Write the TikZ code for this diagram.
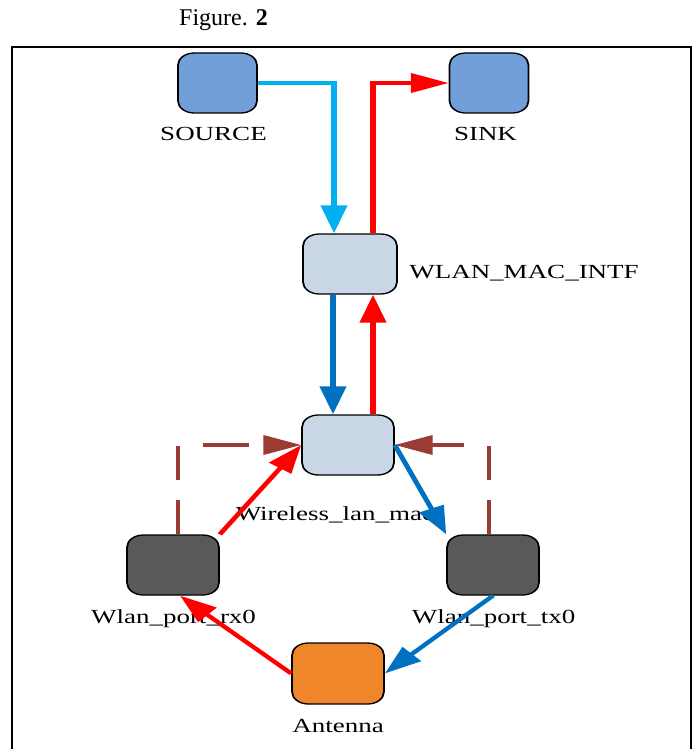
\documentclass[tikz,border=0pt]{standalone}
\usepackage{fontspec}
\setmainfont{Liberation Serif}
\usetikzlibrary{arrows.meta,calc}
\definecolor{srcblue}{RGB}{114,158,217}
\definecolor{macblue}{RGB}{200,214,229}
\definecolor{portgray}{RGB}{89,89,89}
\definecolor{antorange}{RGB}{240,134,42}
\definecolor{cyanc}{RGB}{0,176,240}
\definecolor{bluec}{RGB}{0,112,192}
\definecolor{redc}{RGB}{255,0,0}
\definecolor{brownc}{RGB}{155,60,52}
\tikzset{
  box/.style={draw=black, line width=1.3pt, rounded corners=12pt, minimum width=68pt, minimum height=60pt, inner sep=0pt},
  lbl/.style={font=\fontsize{20}{24}\selectfont, inner sep=0pt, anchor=base},
  conn/.style={line width=3.8pt, -{Triangle[length=28pt,width=19pt]}},
  dconn/.style={line width=3.4pt, brownc, dash pattern=on 34pt off 20pt, -{Triangle[length=28pt,width=19pt]}}
}
\begin{document}
\begin{tikzpicture}[x=1pt,y=-1pt]
\useasboundingbox (0,0) rectangle (695,749);
\node[anchor=base west, inner sep=0pt, font=\fontsize{24}{28}\selectfont] (fig) at (179,26) {Figure. \textbf{2}};
\draw[line width=2.2pt] (12,752) -- (12,47) -- (691,47) -- (691,752);
\begin{scope}[x=0.740741pt, transform canvas={xscale=1.35}]
  % labels (under the connectors)
  \node[lbl] (srcl) at (213.5,140) {SOURCE};
  \node[lbl] (sinkl) at (485.5,140) {SINK};
  \node[lbl, anchor=base west] (intfl) at (409,278) {WLAN\_MAC\_INTF};
  \node[lbl] (wlml) at (335,520) {Wireless\_lan\_mac};
  \node[lbl] (rxl) at (173.5,623) {Wlan\_port\_rx0};
  \node[lbl] (txl) at (493.5,623) {Wlan\_port\_tx0};
  \node[lbl] (antl) at (338,732) {Antenna};
  % boxes
  \node[box, fill=srcblue, minimum width=58.5pt] (src) at (217.5,83) {};
  \node[box, fill=srcblue, minimum width=58.5pt] (sink) at (489,83) {};
  \node[box, fill=macblue, minimum width=69.6pt] (intf) at (350,264) {};
  \node[box, fill=macblue] (wlm) at (348,445) {};
  \node[box, fill=portgray] (rx) at (173,565) {};
  \node[box, fill=portgray] (tx) at (493,565) {};
  \node[box, fill=antorange, minimum height=61pt] (ant) at (338,673.5) {};
  % connectors
  \draw[dconn] ($(rx.north)+(5,0)$) |- (wlm.west);
  \draw[dconn] ($(tx.north)+(-4,0)$) |- (wlm.east);
  \draw[conn, cyanc] (src.east) -| ($(intf.north)+(-16,0)$);
  \draw[conn, redc] ($(intf.north)+(23,0)$) |- (sink.west);
  \draw[conn, bluec] ($(intf.south)+(-17,0)$) -- ($(wlm.north)+(-15,0)$);
  \draw[conn, redc] ($(wlm.north)+(25,0)$) -- ($(intf.south)+(23,0)$);
  \draw[conn, redc] (rx.north east) -- (wlm.west);
  \draw[conn, bluec] (wlm.east) -- (tx.north west);
  \draw[conn, redc] (ant.west) -- ($(rx.south)+(7,0)$);
  \draw[conn, bluec] (tx.south) -- (ant.east);
\end{scope}
\end{tikzpicture}
\end{document}
